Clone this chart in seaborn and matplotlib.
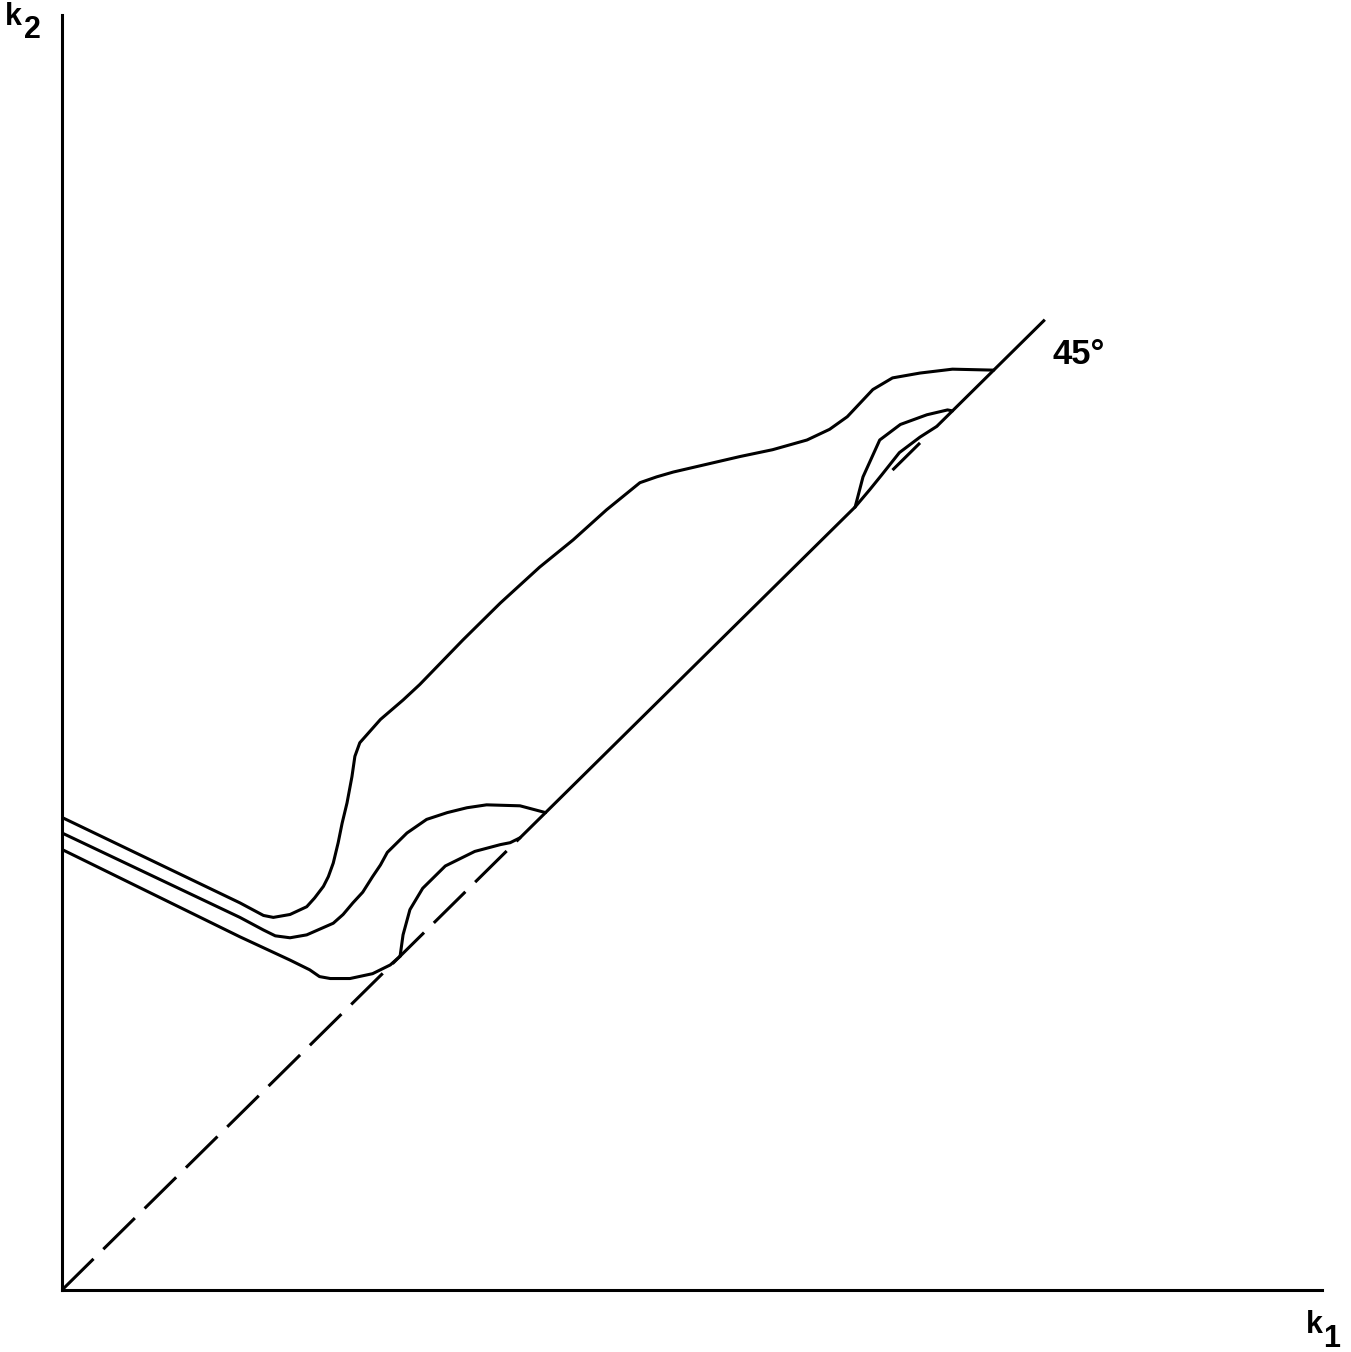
import numpy as np
import pandas as pd
import seaborn as sns
import matplotlib
matplotlib.use("Agg")
import matplotlib.pyplot as plt

# curve data in (k1, k2) units, 45 degree line runs from (0, 0) to (10, 10)
upper_k1 = [0.00, 1.81, 2.05, 2.15, 2.32, 2.49, 2.57, 2.66, 2.71, 2.76, 2.81, 2.85, 2.90, 2.95,
            2.98, 3.03, 3.10, 3.24, 3.47, 3.64, 4.08, 4.46, 4.86, 5.20, 5.54, 5.71, 5.88, 6.05,
            6.22, 6.56, 6.90, 7.23, 7.58, 7.81, 7.99, 8.12, 8.25, 8.45, 8.73, 9.06, 9.48]
upper_k2 = [4.87, 3.99, 3.86, 3.84, 3.87, 3.95, 4.04, 4.16, 4.26, 4.40, 4.61, 4.81, 5.02, 5.29,
            5.50, 5.64, 5.72, 5.88, 6.08, 6.24, 6.70, 7.08, 7.45, 7.73, 8.04, 8.18, 8.32, 8.38,
            8.43, 8.51, 8.59, 8.66, 8.76, 8.87, 9.00, 9.14, 9.28, 9.40, 9.45, 9.49, 9.48]

middle_k1 = [0.00, 1.81, 2.05, 2.17, 2.32, 2.49, 2.76, 2.86, 2.96, 3.06, 3.16, 3.24, 3.31, 3.41,
             3.51, 3.71, 3.92, 4.12, 4.32, 4.66, 4.92]
middle_k2 = [4.71, 3.84, 3.71, 3.65, 3.63, 3.66, 3.78, 3.87, 3.99, 4.10, 4.26, 4.38, 4.51, 4.61,
             4.71, 4.85, 4.92, 4.97, 5.00, 4.99, 4.92]

lower_k1 = [0.00, 1.81, 2.32, 2.42, 2.52, 2.62, 2.73, 2.93, 3.16, 3.34, 3.44]
lower_k2 = [4.54, 3.64, 3.40, 3.35, 3.30, 3.23, 3.21, 3.21, 3.26, 3.35, 3.44]

lens_k1 = [3.44, 3.47, 3.54, 3.67, 3.90, 4.20, 4.46, 4.56, 4.66]
lens_k2 = [3.44, 3.66, 3.92, 4.14, 4.37, 4.52, 4.59, 4.61, 4.66]

small_outer_k1 = [8.07, 8.15, 8.32, 8.53, 8.80, 9.01, 9.06]
small_outer_k2 = [8.07, 8.38, 8.76, 8.92, 9.02, 9.07, 9.06]

small_inner_k1 = [8.07, 8.22, 8.34, 8.52, 8.73, 8.90]
small_inner_k2 = [8.07, 8.25, 8.40, 8.63, 8.79, 8.90]

# pieces of the 45 degree line (start, end)
diag_dashed = [(0.00, 4.66), (8.45, 8.73)]
diag_solid = [(4.66, 8.07), (8.90, 10.00)]

sns.set_theme(style="white")
plt.rcParams['font.family'] = ['Liberation Sans', 'DejaVu Sans']
plt.rcParams['text.color'] = 'black'

fig = plt.figure(figsize=(13.51, 13.52), dpi=100)
ax = fig.add_axes([62 / 1351, 62 / 1352, 1260 / 1351, 1275 / 1352])

lw = 2.2
for xs, ys in [(upper_k1, upper_k2), (middle_k1, middle_k2), (lower_k1, lower_k2),
               (lens_k1, lens_k2), (small_outer_k1, small_outer_k2),
               (small_inner_k1, small_inner_k2)]:
    df = pd.DataFrame({"k1": xs, "k2": ys})
    sns.lineplot(data=df, x="k1", y="k2", sort=False, estimator=None,
                 color="black", lw=lw, solid_joinstyle="round", ax=ax)

for a, b in diag_solid:
    ax.plot([a, b], [a, b], color="black", lw=lw, solid_capstyle="butt")
for a, b in diag_dashed:
    ax.plot([a, b], [a, b], color="black", lw=lw, dashes=(14.5, 4.5))

ax.set_xlim(0, 12.82)
ax.set_ylim(0, 13.14)
ax.set_xticks([])
ax.set_yticks([])
ax.set_xlabel("")
ax.set_ylabel("")
for side in ["top", "right"]:
    ax.spines[side].set_visible(False)
for side in ["left", "bottom"]:
    ax.spines[side].set_color("black")
    ax.spines[side].set_linewidth(2.2)

ax.text(10.08, 9.54, "45°", fontsize=25, fontweight="bold", color="black",
        va="baseline", ha="left")

# axis names, k with a full-size dropped index
fig.text(5 / 1351, 1 - 25 / 1352, "k", fontsize=22, fontweight="bold", va="baseline")
fig.text(24 / 1351, 1 - 38 / 1352, "2", fontsize=22, fontweight="bold", va="baseline")
fig.text(1306 / 1351, 1 - 1333 / 1352, "k", fontsize=22, fontweight="bold", va="baseline")
fig.text(1323 / 1351, 1 - 1347 / 1352, "1", fontsize=22, fontweight="bold", va="baseline")

fig.savefig("out.png", dpi=100, facecolor="white")
